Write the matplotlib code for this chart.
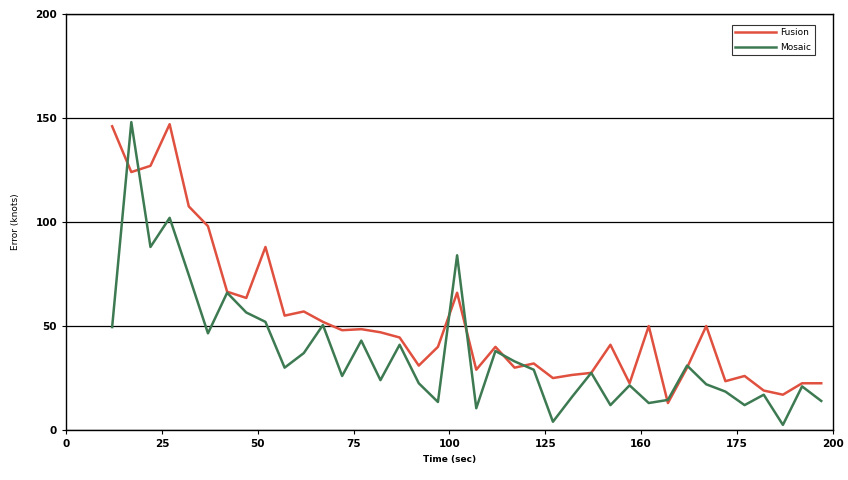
import matplotlib
matplotlib.use("Agg")
import matplotlib.pyplot as plt

# sample times (sec)
time = [12, 17, 22, 27, 32, 37, 42, 47, 52, 57, 62, 67, 72, 77, 82, 87, 92, 97, 102,
        107, 112, 117, 122, 127, 132, 137, 142, 147, 152, 157, 162, 167, 172, 177,
        182, 187, 192, 197]

fusion = [146, 124, 127, 147, 107.5, 98, 66.5, 63.5, 88, 55, 57, 52, 48, 48.5, 47,
          44.5, 31, 40, 66, 29, 40, 30, 32, 25, 26.5, 27.5, 41, 22.5, 50, 13, 30,
          50, 23.5, 26, 19, 17, 22.5, 22.5]

mosaic = [49.5, 148, 88, 102, 74.5, 46.5, 66, 56.5, 52, 30, 37, 50.5, 26, 43, 24,
          41, 22.5, 13.5, 84, 10.5, 38, 33, 29, 4, 16, 27.5, 12, 21.5, 13, 14.5, 31,
          22, 18.5, 12, 17, 2.5, 21, 14]

fig = plt.figure(figsize=(8.48, 4.8), dpi=100)
ax = fig.add_axes([0.078, 0.104, 0.904, 0.867])

ax.plot(time, fusion, color="#e0503f", lw=1.8, label="Fusion")
ax.plot(time, mosaic, color="#3d7a52", lw=1.8, label="Mosaic")

ax.set_xlim(0, 200)
ax.set_ylim(0, 200)
ax.set_xticks([0, 25, 50, 75, 100, 125, 150, 175, 200])
ax.set_xticklabels(["0", "25", "50", "75", "100", "125", "160", "175", "200"])
ax.set_yticks([0, 50, 100, 150, 200])
ax.yaxis.grid(True, color="black", lw=0.9)
ax.set_axisbelow(True)
for s in ax.spines.values():
    s.set_linewidth(1.0)
ax.tick_params(labelsize=7.5, length=3, width=0.8, colors="black")
for lab in ax.get_xticklabels() + ax.get_yticklabels():
    lab.set_fontweight("bold")

ax.set_xlabel("Time (sec)", fontsize=6.5, fontweight="bold", labelpad=4)
ax.set_ylabel("Error (knots)", fontsize=6.5, labelpad=11)

leg = ax.legend(loc="upper right", fontsize=6.5, frameon=True, fancybox=False,
                edgecolor="black", handlelength=4.5, borderpad=0.4,
                labelspacing=0.6, handletextpad=0.5,
                bbox_to_anchor=(0.983, 0.985))
leg.get_frame().set_linewidth(0.8)

plt.savefig("out.png", dpi=100)
